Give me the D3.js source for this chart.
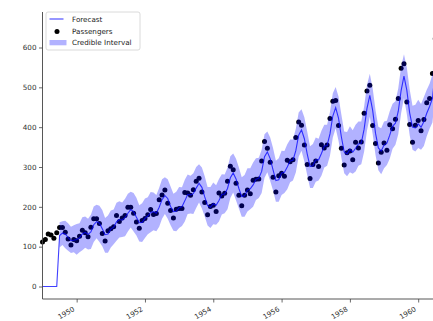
<!DOCTYPE html>
<html><head><meta charset="utf-8">
<script src="https://cdn.jsdelivr.net/npm/d3@7"></script>
<style>body{margin:0;background:#fff;} svg{display:block;font-family:"DejaVu Sans",sans-serif;}</style>
</head><body><svg id="chart" width="433" height="321"></svg>
<script>
const startYear = 1949;
const passengers = [112,118,132,129,121,135,148,148,136,119,104,118,
115,126,141,135,125,149,170,170,158,133,114,140,
145,150,178,163,172,178,199,199,184,162,146,166,
171,180,193,181,183,218,230,242,209,191,172,194,
196,196,236,235,229,243,264,272,237,211,180,201,
204,188,235,227,234,264,302,293,259,229,203,229,
242,233,267,269,270,315,364,347,312,274,237,278,
284,277,317,313,318,374,413,405,355,306,271,306,
315,301,356,348,355,422,465,467,404,347,305,336,
340,318,362,348,363,435,491,505,404,359,310,337,
360,342,406,396,420,472,548,559,463,407,362,405,
417,391,419,461,472,535,622,606,508,461,390,432];
const forecast = [0,0,0,0,0,0,128,134,132,123,115,116,
118,122,132,136,131,137,155,163,159,145,130,132,
144,149,162,168,167,173,184,193,188,174,160,161,
171,177,186,188,184,199,218,228,221,201,188,189,
198,200,215,231,230,233,247,259,249,225,203,199,
208,204,216,231,232,246,273,285,270,246,226,228,
242,245,255,269,272,289,326,338,321,293,266,268,
285,287,300,315,317,341,380,393,371,333,301,303,
318,318,334,352,354,383,428,449,423,376,338,333,
344,337,347,358,360,395,447,480,442,385,348,340,
355,360,380,402,410,440,492,528,493,436,400,398,
408,400,414,435,452,472,540,575,535,480,436,425];
const lower = [null,null,null,null,null,null,98,104,96,90,84,86,
80,86,91,97,93,94,112,121,112,101,85,85,
98,106,115,123,124,126,138,148,138,128,113,112,
122,131,136,141,139,150,170,182,170,154,140,139,
147,152,163,182,183,182,197,211,196,176,153,147,
156,155,163,181,184,194,222,236,216,196,175,175,
188,194,200,217,222,235,273,287,265,241,213,213,
230,235,244,262,266,286,326,341,314,280,247,247,
263,266,278,299,303,328,374,397,366,323,284,277,
287,283,289,303,307,338,391,426,383,330,292,282,
297,305,321,346,356,382,435,473,433,380,343,339,
348,343,353,377,396,412,481,518,473,422,377,364];
const upper = [null,null,null,null,null,null,161,164,165,159,150,154,
157,159,174,176,170,180,201,205,203,192,172,178,
191,193,210,214,211,220,233,238,235,223,204,209,
221,224,237,236,230,248,269,274,269,251,233,238,
250,249,268,281,278,284,300,307,299,277,250,250,
261,254,270,282,281,298,327,334,321,299,274,280,
297,297,311,322,323,343,382,389,374,348,316,322,
341,340,357,369,369,396,437,445,425,389,352,358,
374,371,391,406,406,438,485,501,477,432,389,388,
402,392,406,414,414,452,506,534,498,443,401,397,
414,416,440,459,465,498,552,583,550,495,454,456,
469,458,476,494,509,532,602,632,594,541,492,485];
const xTickYears = [1950,1952,1954,1956,1958,1960];
const yTickValues = [0,100,200,300,400,500,600];
const legendLabels = ["Forecast","Passengers","Credible Interval"];

const svg = d3.select("#chart");
const x = d3.scaleLinear().domain([1949, 1960]).range([42.5, 418.2]);
const y = d3.scaleLinear().domain([0, 600]).range([286.5, 47.5]);
const axisBottomY = 299, axisTopY = 12;
const tYear = i => startYear + i / 12;
const idx = d3.range(passengers.length);

// scatter first (fill drawn over it)
svg.append("g").selectAll("circle").data(idx).join("circle")
  .attr("cx", i => x(tYear(i))).attr("cy", i => y(passengers[i]))
  .attr("r", 2.5).attr("fill", "#000");

// credible interval
const area = d3.area()
  .defined(i => lower[i] != null)
  .x(i => x(tYear(i))).y0(i => y(lower[i])).y1(i => y(upper[i]));
svg.append("path").datum(idx).attr("d", area)
  .attr("fill", "#0000ff").attr("fill-opacity", 0.3);

// forecast line
const line = d3.line().x(i => x(tYear(i))).y(i => y(forecast[i]));
svg.append("path").datum(idx).attr("d", line)
  .attr("fill", "none").attr("stroke", "#0000ff").attr("stroke-opacity", 0.75).attr("stroke-width", 1.1);

// axes
const axisColor = "#444";
const yAxis = svg.append("g").attr("transform", "translate(42.5,0)")
  .call(d3.axisLeft(y).tickValues(yTickValues).tickSize(3.5).tickPadding(2.5));
yAxis.select(".domain").remove();
yAxis.selectAll("line").attr("stroke", axisColor).attr("stroke-width", 0.8);
yAxis.selectAll("text").attr("font-size", 7.2).attr("fill", "#333").attr("font-family", "DejaVu Sans");
svg.append("line").attr("x1", 42.5).attr("x2", 42.5).attr("y1", axisTopY).attr("y2", axisBottomY)
  .attr("stroke", axisColor).attr("stroke-width", 0.9);

const xAxis = svg.append("g").attr("transform", `translate(0,${axisBottomY})`)
  .call(d3.axisBottom(x).tickValues(xTickYears).tickFormat(d3.format("d")).tickSize(3.5));
xAxis.select(".domain").remove();
xAxis.selectAll("line").attr("stroke", axisColor).attr("stroke-width", 0.8);
xAxis.selectAll("text").attr("font-size", 7).attr("fill", "#333").attr("font-family", "DejaVu Sans")
  .attr("text-anchor", "end").attr("y", null).attr("dy", null)
  .attr("transform", "translate(-2,11.5) rotate(-30)");
svg.append("line").attr("x1", 42.5).attr("x2", 440).attr("y1", axisBottomY).attr("y2", axisBottomY)
  .attr("stroke", axisColor).attr("stroke-width", 0.9);

// legend
const lg = svg.append("g");
lg.append("rect").attr("x", 46).attr("y", 12).attr("width", 94).attr("height", 38).attr("rx", 2)
  .attr("fill", "#fff").attr("fill-opacity", 0.8).attr("stroke", "#d0d0d0").attr("stroke-width", 0.8);
lg.append("line").attr("x1", 49.5).attr("x2", 63.5).attr("y1", 19).attr("y2", 19)
  .attr("stroke", "#0000ff").attr("stroke-opacity", 0.75).attr("stroke-width", 1.1);
lg.append("circle").attr("cx", 57).attr("cy", 31.5).attr("r", 2.5).attr("fill", "#000");
lg.append("rect").attr("x", 49.5).attr("y", 40).attr("width", 17).attr("height", 5.3)
  .attr("fill", "#0000ff").attr("fill-opacity", 0.3);
const ly = [19, 31.5, 42.7];
lg.selectAll("text").data(legendLabels).join("text")
  .attr("x", 72).attr("y", (d, i) => ly[i]).attr("dy", "0.35em")
  .attr("font-size", 7.2).attr("fill", "#222").text(d => d);
</script></body></html>
